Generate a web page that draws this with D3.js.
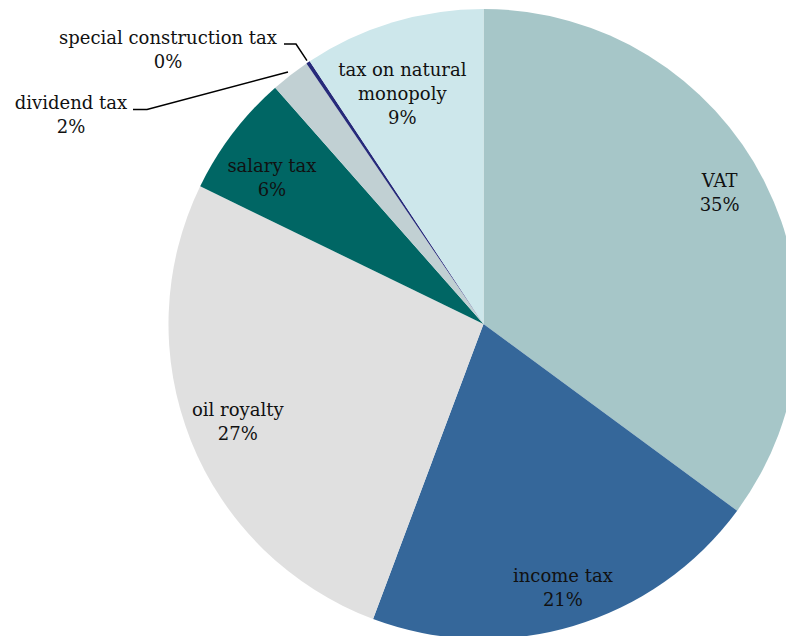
<!DOCTYPE html>
<html>
<head>
<meta charset="utf-8">
<script src="https://cdn.jsdelivr.net/npm/d3@7/dist/d3.min.js"></script>
<style>
  html, body { margin: 0; padding: 0; background: #fff; }
  svg { display: block; }
  text { font-family: "DejaVu Serif", "Liberation Serif", serif; fill: #111; }
</style>
</head>
<body>
<svg id="chart" width="786" height="636"></svg>
<script>
// ---- data ----
const categories = ["VAT", "income tax", "oil royalty", "salary tax", "dividend tax", "special construction tax", "tax on natural monopoly"];
const values = [35.1, 20.6, 26.5, 6.3, 2.0, 0.2, 9.3];
const colors = ["#a6c6c8", "#35679a", "#e0e0e0", "#006664", "#c1d0d3", "#262a7a", "#cde7eb"];
// line breaks used for inside labels
const labelLines = [["VAT"], ["income tax"], ["oil royalty"], ["salary tax"], ["dividend tax"], ["special construction tax"], ["tax on natural", "monopoly"]];
const outsideLabels = ["dividend tax", "special construction tax"];

// ---- layout ----
const W = 786, H = 636;
const cx = 483.5, cy = 324, R = 315;
const fontSize = 18, lineH = 24;
const labelRadius = 0.84 * R;
// small manual nudges of inside labels (as placed in the original chart)
const labelNudge = {
  "VAT": [0, -12],
  "income tax": [4, 10],
  "oil royalty": [0, 0],
  "salary tax": [-1, 14],
  "tax on natural monopoly": [-5, 23]
};
// callout placements (text centre x, first-line centre y, elbow x, elbow y)
const callouts = {
  "special construction tax": { tx: 168, ty: 38, ex0: 284, ex1: 296, ey: 44, rEnd: R + 2 },
  "dividend tax": { tx: 71, ty: 103, ex0: 133, ex1: 147, ey: 109.5, rEnd: R + 4 }
};

const svg = d3.select("#chart");
const g = svg.append("g").attr("transform", `translate(${cx},${cy})`);

const data = categories.map((c, i) => ({ name: c, value: values[i], color: colors[i], lines: labelLines[i] }));
const pie = d3.pie().sort(null).value(d => d.value).startAngle(0).endAngle(2 * Math.PI);
const arcs = pie(data);
const arc = d3.arc().innerRadius(0).outerRadius(R);
const labelArc = d3.arc().innerRadius(labelRadius).outerRadius(labelRadius);

g.selectAll("path.slice").data(arcs).enter().append("path")
  .attr("class", "slice")
  .attr("d", arc)
  .attr("fill", d => d.data.color);

const pct = d => Math.round(d.data.value) + "%";

// inside labels
arcs.filter(d => !outsideLabels.includes(d.data.name)).forEach(d => {
  const [x0, y0] = labelArc.centroid(d);
  const nudge = labelNudge[d.data.name] || [0, 0];
  const x = x0 + nudge[0], y = y0 + nudge[1];
  const lines = d.data.lines.concat([pct(d)]);
  const n = lines.length;
  const t = g.append("text").attr("text-anchor", "middle").style("font-size", fontSize + "px");
  lines.forEach((ln, k) => {
    t.append("tspan").attr("x", x).attr("y", y + (k - (n - 1) / 2) * lineH).attr("dy", "0.35em").text(ln);
  });
});

// callout labels
arcs.filter(d => outsideLabels.includes(d.data.name)).forEach(d => {
  const c = callouts[d.data.name];
  const mid = (d.startAngle + d.endAngle) / 2;
  const px = cx + c.rEnd * Math.sin(mid), py = cy - c.rEnd * Math.cos(mid);
  svg.append("polyline")
    .attr("points", [[c.ex0, c.ey], [c.ex1, c.ey], [px, py]].map(p => p.join(",")).join(" "))
    .attr("fill", "none").attr("stroke", "#000").attr("stroke-width", 1.5);
  const t = svg.append("text").attr("text-anchor", "middle").style("font-size", fontSize + "px");
  [d.data.name, pct(d)].forEach((ln, k) => {
    t.append("tspan").attr("x", c.tx).attr("y", c.ty + k * lineH).attr("dy", "0.35em").text(ln);
  });
});
</script>
</body>
</html>
